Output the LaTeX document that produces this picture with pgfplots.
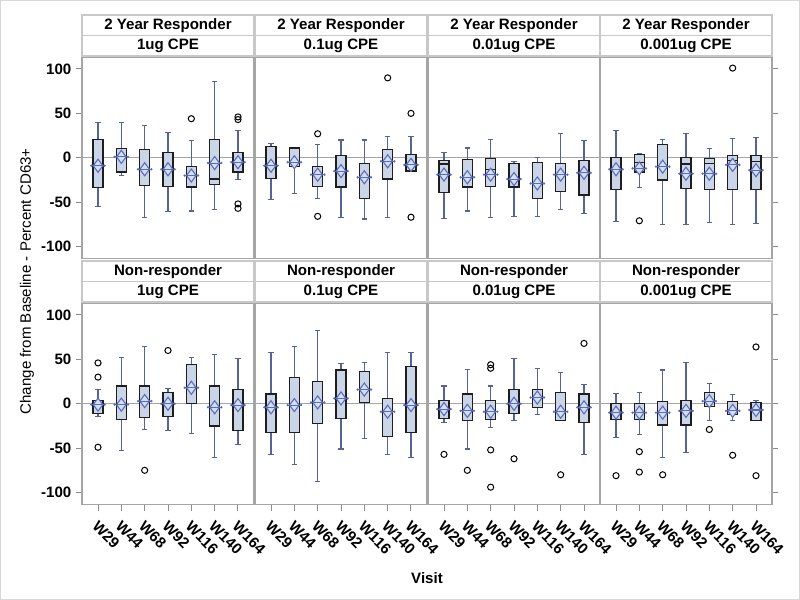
\documentclass[border=0pt]{standalone}
\usepackage{fontspec}
\setmainfont{Liberation Sans}
\usepackage{pgfplots}
\pgfplotsset{compat=1.18}
\usepgfplotslibrary{statistics}
\definecolor{boxfill}{RGB}{203,213,232}
\definecolor{boxline}{RGB}{30,30,30}
\definecolor{whiskc}{RGB}{85,100,150}
\definecolor{meanc}{RGB}{88,108,185}
\definecolor{meanfill}{RGB}{212,222,245}
\definecolor{framec}{RGB}{165,165,165}
\definecolor{tickc}{RGB}{140,140,140}
\definecolor{refc}{RGB}{165,165,165}
\definecolor{hdrc}{RGB}{200,200,200}
\definecolor{outc}{RGB}{215,215,215}
\newcommand\ff{\fontsize{11.3}{13.6}\selectfont\bfseries}
\newcommand\fr{\fontsize{11.3}{13.6}\selectfont}
\pgfdeclareplotmark{meanmk}{%
  \pgfpathmoveto{\pgfqpoint{0pt}{4.9pt}}%
  \pgfpathlineto{\pgfqpoint{3.6pt}{0pt}}%
  \pgfpathlineto{\pgfqpoint{0pt}{-4.9pt}}%
  \pgfpathlineto{\pgfqpoint{-3.6pt}{0pt}}%
  \pgfpathclose
  \pgfusepathqfillstroke
  \pgfpathmoveto{\pgfqpoint{-5pt}{0pt}}%
  \pgfpathlineto{\pgfqpoint{5pt}{0pt}}%
  \pgfusepathqstroke
  \begin{pgfscope}\pgfsetfillcolor{meanc}%
  \pgfpathcircle{\pgfqpoint{-5pt}{0pt}}{1pt}%
  \pgfpathcircle{\pgfqpoint{5pt}{0pt}}{1pt}%
  \pgfusepathqfill\end{pgfscope}%
}
\pgfplotsset{
  panel/.style={scale only axis, width=129pt, height=151.125pt,
    xmin=-0.686, xmax=6.686, ymin=-113.5, ymax=113.5,
    anchor=north west,
    axis line style={draw=framec, line width=0.8pt},
    tick style={draw=tickc, line width=0.75pt},
    tick align=outside, major tick length=4.5pt,
    ytick={-100,-50,0,50,100}, xtick={0,1,2,3,4,5,6},
    tick label style={font=\ff},
  },
  pleft/.style={ytick pos=left, yticklabels={-100,-50,0,50,100}},
  pright/.style={ytick pos=right, yticklabels={,,,,}},
  pmid/.style={ytick=\empty},
  ptop/.style={xtick=\empty},
  pbot/.style={xtick pos=bottom, xticklabels={W29,W44,W68,W92,W116,W140,W164},
    xticklabel style={rotate=-45, anchor=west, inner sep=1pt, xshift=4.6pt, yshift=-8.8pt}},
  bstyle/.style={boxplot/draw direction=y, boxplot/box extend=0.43, boxplot/whisker extend=0.24,
    boxplot/every box/.style={draw=boxline, fill=boxfill, line width=0.85pt},
    boxplot/every whisker/.style={draw=whiskc, line width=0.8pt},
    boxplot/every median/.style={draw=boxline, line width=0.85pt},
    draw=black, mark=o, mark size=2.3pt, mark options={draw=black, line width=0.75pt, solid}},
}
\newcommand\bx[7]{\addplot[bstyle, boxplot prepared={draw position=#1, lower whisker=#2, lower quartile=#3, median=#4, upper quartile=#5, upper whisker=#6}] #7;}
\newcommand\refline{\addplot[refc, line width=0.75pt] coordinates {(-0.686,0) (6.686,0)};}
\newcommand\means[1]{\addplot[only marks, mark=meanmk, mark options={draw=meanc, fill=meanfill, line width=0.8pt}] coordinates {#1};}
\begin{document}
\begin{tikzpicture}
\useasboundingbox (0,0) rectangle (600pt,-450pt);
\draw[outc, line width=1pt] (0.5pt,-0.5pt) rectangle (599.5pt,-449.5pt);
% ---------- top row: 2 Year Responder ----------
\begin{axis}[panel, pleft, ptop, at={(61.5pt,-42.75pt)}]
\refline
\bx{0}{-55}{-34}{-9}{21}{40}{coordinates {}}
\bx{1}{-20}{-16}{1}{10}{40}{coordinates {}}
\bx{2}{-67}{-31}{-13}{9}{36}{coordinates {}}
\bx{3}{-61}{-32}{-13}{6}{28}{coordinates {}}
\bx{4}{-60}{-33}{-20}{-10}{19}{table[row sep=\\,y index=0]{v\\44\\}}
\bx{5}{-58}{-30}{-24}{21}{86}{coordinates {}}
\bx{6}{-24}{-16}{-5}{6}{31}{table[row sep=\\,y index=0]{v\\46\\43\\-52\\-57\\}}
\means{(0,-9)(1,1)(2,-13)(3,-13)(4,-20)(5,-6)(6,-5)}
\end{axis}
\begin{axis}[panel, pmid, ptop, at={(191.25pt,-42.75pt)}]
\refline
\bx{0}{-47}{-23}{-9}{13}{16}{coordinates {}}
\bx{1}{-40}{-10}{-5}{11}{11}{coordinates {}}
\bx{2}{-46}{-32}{-19}{-10}{15}{table[row sep=\\,y index=0]{v\\27\\-66\\}}
\bx{3}{-67}{-33}{-15}{3}{20}{coordinates {}}
\bx{4}{-69}{-46}{-22}{-6}{20}{coordinates {}}
\bx{5}{-67}{-24}{-4}{9}{24}{table[row sep=\\,y index=0]{v\\90\\}}
\bx{6}{-15}{-15}{-8}{4}{24}{table[row sep=\\,y index=0]{v\\50\\-67\\}}
\means{(0,-9)(1,-5)(2,-19)(3,-15)(4,-22)(5,-4)(6,-8)}
\end{axis}
\begin{axis}[panel, pmid, ptop, at={(321pt,-42.75pt)}]
\refline
\bx{0}{-68}{-39}{-7}{-3}{6}{coordinates {}}
\bx{1}{-60}{-33}{-22}{-2}{11}{coordinates {}}
\bx{2}{-67}{-32}{-13}{-1}{21}{coordinates {}}
\bx{3}{-66}{-33}{-24}{-6}{-4}{coordinates {}}
\bx{4}{-66}{-46}{-29}{-5}{0}{coordinates {}}
\bx{5}{-58}{-38}{-18}{-6}{27}{coordinates {}}
\bx{6}{-63}{-42}{-17}{-3}{19}{coordinates {}}
\means{(0,-19)(1,-22)(2,-19)(3,-24)(4,-29)(5,-19)(6,-17)}
\end{axis}
\begin{axis}[panel, pright, ptop, at={(450pt,-42.75pt)}]
\refline
\bx{0}{-72}{-36}{-13}{0}{31}{coordinates {}}
\bx{1}{-34}{-16}{-5}{4}{5}{table[row sep=\\,y index=0]{v\\-71\\}}
\bx{2}{-75}{-25}{-10}{15}{21}{coordinates {}}
\bx{3}{-75}{-35}{-7}{0}{27}{coordinates {}}
\bx{4}{-73}{-36}{-6}{-1}{10}{coordinates {}}
\bx{5}{-75}{-36}{-3}{3}{22}{table[row sep=\\,y index=0]{v\\101\\}}
\bx{6}{-74}{-36}{-4}{3}{23}{coordinates {}}
\means{(0,-13)(1,-12)(2,-10)(3,-18)(4,-18)(5,-8)(6,-14)}
\end{axis}
% ---------- bottom row: Non-responder ----------
\begin{axis}[panel, pleft, pbot, at={(61.5pt,-227.25pt)}]
\refline
\bx{0}{-14}{-11}{-1}{4}{16}{table[row sep=\\,y index=0]{v\\46\\30\\-49\\}}
\bx{1}{-53}{-18}{-1}{20}{52}{coordinates {}}
\bx{2}{-29}{-15}{3}{20}{64}{table[row sep=\\,y index=0]{v\\-75\\}}
\bx{3}{-30}{-14}{0}{13}{17}{table[row sep=\\,y index=0]{v\\60\\}}
\bx{4}{-34}{0}{18}{44}{52}{coordinates {}}
\bx{5}{-61}{-25}{-4}{20}{55}{coordinates {}}
\bx{6}{-46}{-30}{-1.5}{16}{51}{coordinates {}}
\means{(0,-1)(1,-1)(2,3)(3,0)(4,18)(5,-4)(6,-1.5)}
\end{axis}
\begin{axis}[panel, pmid, pbot, at={(191.25pt,-227.25pt)}]
\refline
\bx{0}{-57}{-32}{-4}{11}{58}{coordinates {}}
\bx{1}{-68}{-32}{-1.5}{30}{64}{coordinates {}}
\bx{2}{-88}{-22}{1.5}{25}{82}{coordinates {}}
\bx{3}{-51}{-17}{6}{38}{45}{coordinates {}}
\bx{4}{-39}{1}{16}{36}{46}{coordinates {}}
\bx{5}{-57}{-37}{-9}{6}{58}{coordinates {}}
\bx{6}{-61}{-32}{-1.5}{42}{58}{coordinates {}}
\means{(0,-4)(1,-1.5)(2,1.5)(3,6)(4,16)(5,-9)(6,-1.5)}
\end{axis}
\begin{axis}[panel, pmid, pbot, at={(321pt,-227.25pt)}]
\refline
\bx{0}{-21}{-17}{-6}{4}{20}{table[row sep=\\,y index=0]{v\\-57\\}}
\bx{1}{-51}{-19}{-8}{11}{39}{table[row sep=\\,y index=0]{v\\-75\\}}
\bx{2}{-27}{-18}{-9}{4}{20}{table[row sep=\\,y index=0]{v\\44\\40\\-52\\-94\\}}
\bx{3}{-19}{-11}{0}{16}{51}{table[row sep=\\,y index=0]{v\\-62\\}}
\bx{4}{-12}{-4}{7}{16}{40}{coordinates {}}
\bx{5}{-19}{-19}{-9}{13}{35}{table[row sep=\\,y index=0]{v\\-80\\}}
\bx{6}{-57}{-21}{-4}{11}{22}{table[row sep=\\,y index=0]{v\\68\\}}
\means{(0,-6)(1,-8)(2,-9)(3,0)(4,7)(5,-9)(6,-4)}
\end{axis}
\begin{axis}[panel, pright, pbot, at={(450pt,-227.25pt)}]
\refline
\bx{0}{-38}{-18}{-10}{0}{12}{table[row sep=\\,y index=0]{v\\-81\\}}
\bx{1}{-35}{-18}{-10}{0}{13}{table[row sep=\\,y index=0]{v\\-54\\-77\\}}
\bx{2}{-61}{-24}{-10}{3}{38}{table[row sep=\\,y index=0]{v\\-80\\}}
\bx{3}{-55}{-24}{-8}{4}{46}{coordinates {}}
\bx{4}{-19}{-3}{3}{13}{23}{table[row sep=\\,y index=0]{v\\-29\\}}
\bx{5}{-19}{-12}{-8}{3}{10}{table[row sep=\\,y index=0]{v\\-58\\}}
\bx{6}{-19}{-19}{-7}{1.5}{4}{table[row sep=\\,y index=0]{v\\64\\-81\\}}
\means{(0,-10)(1,-10)(2,-10)(3,-8)(4,3)(5,-8)(6,-7)}
\end{axis}
% ---------- header cells ----------
\foreach \x/\t in {61.5/1ug CPE, 191.25/0.1ug CPE, 321/0.01ug CPE, 450/0.001ug CPE}{
  \draw[hdrc, line width=0.8pt, fill=white] (\x pt,-11.25pt) rectangle ++(129pt,-15.375pt)
    node[midway, black, font=\ff] {2 Year Responder};
  \draw[hdrc, line width=0.8pt, fill=white] (\x pt,-26.625pt) rectangle ++(129pt,-15.375pt)
    node[midway, black, font=\ff] {\t};
  \draw[hdrc, line width=0.8pt, fill=white] (\x pt,-195.75pt) rectangle ++(129pt,-15.375pt)
    node[midway, black, font=\ff] {Non-responder};
  \draw[hdrc, line width=0.8pt, fill=white] (\x pt,-211.125pt) rectangle ++(129pt,-15.375pt)
    node[midway, black, font=\ff] {\t};
}
\node[rotate=90, font=\fr] at (20.25pt,-211pt) {Change from Baseline - Percent CD63+};
\node[font=\ff] at (320.25pt,-433.5pt) {Visit};
\end{tikzpicture}
\end{document}
